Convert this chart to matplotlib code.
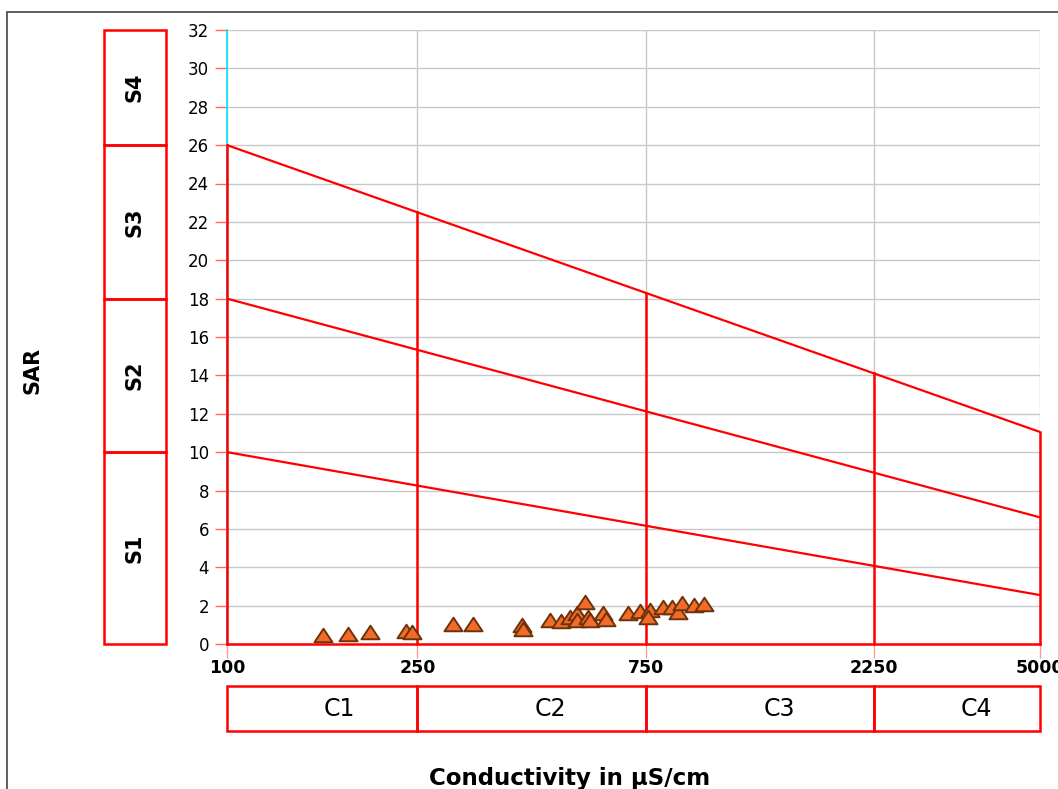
import matplotlib
matplotlib.use("Agg")
import matplotlib.pyplot as plt
from matplotlib.patches import Rectangle
from matplotlib.path import Path
import matplotlib.transforms as mtransforms
import numpy as np

plt.rcParams['font.family'] = ['DejaVu Sans']

# samples: conductivity (uS/cm) and SAR
ec = [159, 179, 199, 237, 243, 297, 326, 414, 416, 474, 498, 522, 540, 561,
      540, 569, 574, 612, 618, 690, 728, 767, 760, 813, 853, 874, 895, 944, 991]
sar = [0.47, 0.52, 0.60, 0.70, 0.65, 1.04, 1.04, 0.99, 0.78, 1.25, 1.20, 1.41,
       1.62, 2.19, 1.25, 1.41, 1.25, 1.62, 1.30, 1.62, 1.72, 1.77, 1.41, 1.93,
       1.93, 1.67, 2.14, 2.03, 2.08]

# class boundaries
ec_ticks = [100, 250, 750, 2250, 5000]
sar_at_100 = [10, 18, 26]
sar_at_5000 = [2.55, 6.6, 11.05]
c_labels = ['C1', 'C2', 'C3', 'C4']
s_labels = ['S1', 'S2', 'S3', 'S4']
s_bounds = [0, 10, 18, 26, 32]

fig = plt.figure(figsize=(10.58, 7.89), dpi=100)
ax = fig.add_axes([227/1058, 1 - 644/789, 813/1058, 614/789])
ax.set_xscale('log')
ax.set_xlim(100, 5000)
ax.set_ylim(0, 32)

for s in ['top', 'right', 'bottom']:
    ax.spines[s].set_visible(False)
ax.spines['left'].set_color('#00e5ff')
ax.spines['left'].set_linewidth(1.2)

ax.set_yticks(range(0, 33, 2))
ax.set_xticks(ec_ticks)
ax.set_xticklabels([str(v) for v in ec_ticks], fontweight='bold', fontsize=12.5)
ax.xaxis.set_minor_locator(plt.NullLocator())
ax.tick_params(axis='y', colors='#ff6666', length=9, width=1, labelsize=12,
               labelcolor='black', pad=4)
ax.tick_params(axis='x', colors='#ff9999', length=10, width=1, labelcolor='black',
               pad=1)
ax.grid(True, color='#c8c8c8', linewidth=1)
ax.set_axisbelow(True)

red = '#ff0000'
lx = np.log10(100)
rx = np.log10(5000)

def line_at(x, a, b):
    return a + (b - a) * (np.log10(x) - lx) / (rx - lx)

# sloping boundaries
for a, b in zip(sar_at_100, sar_at_5000):
    ax.plot([100, 5000], [a, b], color=red, lw=1.6, zorder=3)
# vertical boundaries
for x in ec_ticks:
    top = line_at(x, sar_at_100[-1], sar_at_5000[-1])
    ax.plot([x, x], [0, top], color=red, lw=1.8, zorder=3, clip_on=False)
ax.plot([100, 5000], [0, 0], color=red, lw=1.8, zorder=3, clip_on=False)

tri = Path([(-1, -0.75), (1, -0.75), (0, 0.75), (-1, -0.75)],
           [Path.MOVETO, Path.LINETO, Path.LINETO, Path.CLOSEPOLY])
ax.plot(ec, sar, linestyle='none', marker=tri, markersize=13,
        markerfacecolor='#f26b2a', markeredgecolor='#6e3208',
        markeredgewidth=1.4, zorder=5, clip_on=False)

# S boxes on the left
tr_s = mtransforms.blended_transform_factory(ax.transAxes, ax.transData)
x0 = (104 - 227) / 813
w = (166 - 104) / 813
for i, lab in enumerate(s_labels):
    y0, y1 = s_bounds[i], s_bounds[i + 1]
    ax.add_patch(Rectangle((x0, y0), w, y1 - y0, transform=tr_s, fill=False,
                           edgecolor=red, lw=1.8, clip_on=False))
    ax.text(x0 + w / 2, (y0 + y1) / 2, lab, transform=tr_s, rotation=90,
            ha='center', va='center', fontsize=15, fontweight='bold')

# C boxes below
tr_c = mtransforms.blended_transform_factory(ax.transData, ax.transAxes)
yb = (644 - 731) / 614
h = (731 - 686) / 614
c_text_x = [172, 474, 1428, 3690]
for i, lab in enumerate(c_labels):
    xa, xb = ec_ticks[i], ec_ticks[i + 1]
    ax.add_patch(Rectangle((xa, yb), xb - xa, h, transform=tr_c, fill=False,
                           edgecolor=red, lw=1.8, clip_on=False))
    ax.text(c_text_x[i], yb + h / 2, lab, transform=tr_c, ha='center',
            va='center', fontsize=17)

fig.text(33 / 1058, 1 - 370 / 789, 'SAR', rotation=90, ha='center', va='center',
         fontsize=15, fontweight='bold')
fig.text(570 / 1058, 1 - 778 / 789, 'Conductivity in µS/cm', ha='center',
         va='center', fontsize=16.5, fontweight='bold')

# outer frame (cropped on right and bottom)
fig.patches.append(Rectangle((7 / 1058, -0.1), 1.2, 1 - 12 / 789 + 0.1,
                             transform=fig.transFigure, fill=False,
                             edgecolor='#444444', lw=1.2))

fig.savefig('out.png', dpi=100)
